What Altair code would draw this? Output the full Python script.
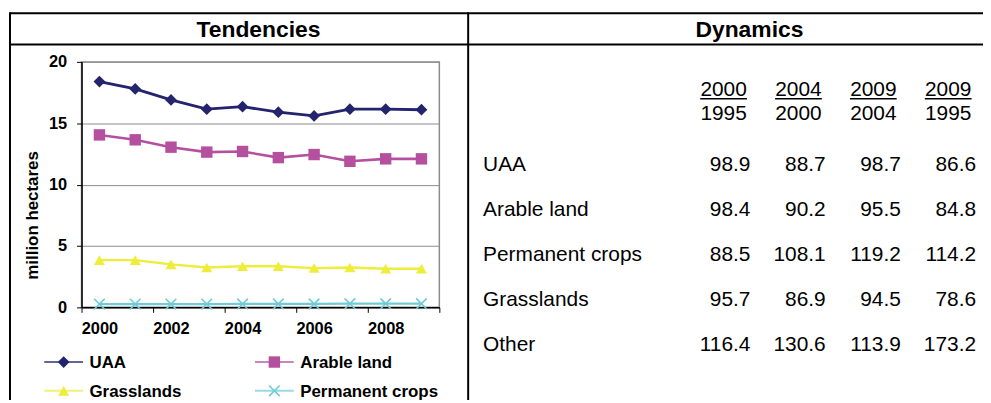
import altair as alt
import pandas as pd

# ---------------- data ----------------
years = [2000, 2001, 2002, 2003, 2004, 2005, 2006, 2007, 2008, 2009]
uaa = [18.4, 17.8, 16.9, 16.15, 16.35, 15.9, 15.6, 16.15, 16.15, 16.1]
arable = [14.05, 13.65, 13.05, 12.65, 12.7, 12.2, 12.45, 11.9, 12.1, 12.1]
grasslands = [3.85, 3.85, 3.5, 3.25, 3.35, 3.35, 3.2, 3.25, 3.15, 3.15]
perm_crops = [0.27, 0.27, 0.27, 0.27, 0.28, 0.28, 0.28, 0.3, 0.3, 0.3]

series_names = ["UAA", "Arable land", "Grasslands", "Permanent crops"]
series_colors = ["#23236E", "#B5509F", "#EDED3A", "#6FCBD6"]
series_shapes = ["diamond", "square", "triangle-up", "M-1,-1L1,1M-1,1L1,-1"]

panel_titles = ["Tendencies", "Dynamics"]

row_labels = ["UAA", "Arable land", "Permanent crops", "Grasslands", "Other"]
col_ids = ["c1", "c2", "c3", "c4"]
col_num = ["2000", "2004", "2009", "2009"]
col_den = ["1995", "2000", "2004", "1995"]
v_2000_1995 = [98.9, 98.4, 88.5, 95.7, 116.4]
v_2004_2000 = [88.7, 90.2, 108.1, 86.9, 130.6]
v_2009_2004 = [98.7, 95.5, 119.2, 94.5, 113.9]
v_2009_1995 = [86.6, 84.8, 114.2, 78.6, 173.2]

# ---------------- tables ----------------
line_df = pd.DataFrame(
    [{"year": y, "series": s, "value": v}
     for s, vals in zip(series_names, [uaa, arable, grasslands, perm_crops])
     for y, v in zip(years, vals)]
)
legend_df = pd.DataFrame(
    [{"series": s, "lcol": i % 2, "lrow": i // 2} for i, s in enumerate(series_names)]
)
table_df = pd.DataFrame(
    [{"row": r, "col": c, "value": v}
     for c, vals in zip(col_ids, [v_2000_1995, v_2004_2000, v_2009_2004, v_2009_1995])
     for r, v in zip(row_labels, vals)]
)
rows_df = pd.DataFrame({"row": row_labels})
head_df = pd.DataFrame({"col": col_ids, "num": col_num, "den": col_den})
title_df = pd.DataFrame({"panel": panel_titles})
one = pd.DataFrame({"a": [0]})

FONT = "Liberation Sans, Arial, Helvetica, sans-serif"
BLACK = "#000000"
GRID = "#8c8c8c"
TABLE_FS = 21

color_scale = alt.Scale(domain=series_names, range=series_colors)
shape_scale = alt.Scale(domain=series_names, range=series_shapes)
width_scale = alt.Scale(domain=series_names, range=[2.8, 2.2, 2.2, 2.2])
size_scale = alt.Scale(domain=series_names, range=[140, 115, 150, 100])

# ---------------- line chart ----------------
x_tick_values = [1999.5 + i for i in range(11)]
x_enc = alt.X(
    "year:Q",
    scale=alt.Scale(domain=[1999.5, 2009.5], nice=False, zero=False),
    axis=alt.Axis(
        values=x_tick_values,
        labelExpr="((datum.value + 0.5) % 2 == 0 && datum.value < 2009) ? format(datum.value + 0.5, 'd') : ''",
        labelOffset=18, labelFlush=False, labelOverlap=False, labelBound=False,
        grid=False, tickSize=5, tickColor=BLACK, domainColor=BLACK, domainWidth=1.5,
        labelFont=FONT, labelFontSize=16.5, labelFontWeight="bold", labelColor=BLACK,
        labelPadding=8, title=None,
    ),
)
y_enc = alt.Y(
    "value:Q",
    scale=alt.Scale(domain=[0, 20], nice=False),
    axis=alt.Axis(
        values=[0, 5, 10, 15, 20], grid=True, gridColor=GRID, gridWidth=1,
        tickSize=5, tickColor=BLACK, domainColor=BLACK, domainWidth=1.5,
        labelFont=FONT, labelFontSize=16.5, labelFontWeight="bold", labelColor=BLACK,
        labelPadding=10, title="million hectares", titleFont=FONT, titleFontSize=17,
        titleFontWeight="bold", titleColor=BLACK, titleX=-40, titleY=154,
    ),
)

lines = alt.Chart(line_df).mark_line().encode(
    x=x_enc, y=y_enc,
    color=alt.Color("series:N", scale=color_scale, legend=None),
    strokeWidth=alt.StrokeWidth("series:N", scale=width_scale, legend=None),
)
pts_filled = alt.Chart(line_df).transform_filter(
    alt.datum.series != "Permanent crops"
).mark_point(filled=True, opacity=1).encode(
    x=alt.X("year:Q"), y=alt.Y("value:Q"),
    color=alt.Color("series:N", scale=color_scale, legend=None),
    shape=alt.Shape("series:N", scale=shape_scale, legend=None),
    size=alt.Size("series:N", scale=size_scale, legend=None),
)
pts_x = alt.Chart(line_df).transform_filter(
    alt.datum.series == "Permanent crops"
).mark_point(filled=False, opacity=1, strokeWidth=1.6).encode(
    x=alt.X("year:Q"), y=alt.Y("value:Q"),
    color=alt.Color("series:N", scale=color_scale, legend=None),
    shape=alt.Shape("series:N", scale=shape_scale, legend=None),
    size=alt.Size("series:N", scale=size_scale, legend=None),
)
line_chart = alt.layer(lines, pts_filled, pts_x)

# ---------------- manual legend ----------------
lx = alt.X("lcol:O", scale=alt.Scale(type="point", domain=[0, 1], range=[-18, 194], padding=0), axis=None)
ly = alt.Y("lrow:O", scale=alt.Scale(type="point", domain=[0, 1], range=[302, 331], padding=0), axis=None)
leg_lines = alt.Chart(legend_df).mark_tick(orient="horizontal", size=39, thickness=2).encode(
    x=lx, y=ly, color=alt.Color("series:N", scale=color_scale, legend=None))
leg_filled = alt.Chart(legend_df).transform_filter(
    alt.datum.series != "Permanent crops"
).mark_point(filled=True, opacity=1).encode(
    x=lx, y=ly, color=alt.Color("series:N", scale=color_scale, legend=None),
    shape=alt.Shape("series:N", scale=shape_scale, legend=None),
    size=alt.Size("series:N", scale=size_scale, legend=None))
leg_x = alt.Chart(legend_df).transform_filter(
    alt.datum.series == "Permanent crops"
).mark_point(filled=False, opacity=1, strokeWidth=1.6).encode(
    x=lx, y=ly, color=alt.Color("series:N", scale=color_scale, legend=None),
    shape=alt.Shape("series:N", scale=shape_scale, legend=None),
    size=alt.Size("series:N", scale=size_scale, legend=None))
leg_text = alt.Chart(legend_df).mark_text(
    align="left", baseline="middle", dx=26, dy=1, font=FONT, fontSize=17,
    fontWeight="bold", color=BLACK,
).encode(x=lx, y=ly, text="series:N")
legend_layer = alt.layer(leg_lines, leg_filled, leg_x, leg_text)

# ---------------- panel titles ----------------
titles = alt.Chart(title_df).mark_text(
    align="center", baseline="middle", font=FONT, fontSize=23, fontWeight="bold", color=BLACK
).encode(
    x=alt.X("panel:N", scale=alt.Scale(type="point", domain=panel_titles, range=[178, 672], padding=0), axis=None),
    y=alt.value(-32),
    text="panel:N",
)

# ---------------- frame ----------------
def hrule(y):
    return alt.Chart(one).mark_rule(color=BLACK, strokeWidth=2).encode(
        x=alt.value(-72), x2=alt.value(912), y=alt.value(y))

def vrule(x):
    return alt.Chart(one).mark_rule(color=BLACK, strokeWidth=2).encode(
        x=alt.value(x), y=alt.value(-50), y2=alt.value(345))

frame = alt.layer(hrule(-49), hrule(-17.5), vrule(-72), vrule(389))

# ---------------- dynamics table ----------------
ty = alt.Y("row:N", scale=alt.Scale(type="point", domain=row_labels, range=[104, 285], padding=0), axis=None)
row_text = alt.Chart(rows_df).mark_text(
    align="left", baseline="middle", font=FONT, fontSize=TABLE_FS, color=BLACK
).encode(x=alt.value(404), y=ty, text="row:N")
val_text = alt.Chart(table_df).mark_text(
    align="right", baseline="middle", font=FONT, fontSize=TABLE_FS, color=BLACK
).encode(
    x=alt.X("col:N", scale=alt.Scale(type="point", domain=col_ids, range=[673, 900], padding=0), axis=None),
    y=ty,
    text=alt.Text("value:Q", format=".1f"),
)
table_layer = alt.layer(row_text, val_text)

hx = alt.X("col:N", scale=alt.Scale(type="point", domain=col_ids, range=[646, 872], padding=0), axis=None)
num_text = alt.Chart(head_df).mark_text(
    align="center", baseline="middle", font=FONT, fontSize=TABLE_FS, color=BLACK
).encode(x=hx, y=alt.value(28), text="num:N")
den_text = alt.Chart(head_df).mark_text(
    align="center", baseline="middle", font=FONT, fontSize=TABLE_FS, color=BLACK
).encode(x=hx, y=alt.value(52.5), text="den:N")
underline = alt.Chart(head_df).mark_tick(
    orient="horizontal", size=47, thickness=1.5, color=BLACK, opacity=1
).encode(x=hx, y=alt.value(37))
head_layer = alt.layer(num_text, den_text, underline)

chart = alt.layer(
    line_chart, legend_layer, titles, frame, table_layer, head_layer
).resolve_scale(
    x="independent", y="independent"
).properties(
    width=360, height=247,
    padding={"left": 74, "top": 53, "right": 547, "bottom": 92},
    autosize=alt.AutoSizeParams(type="none"),
    background="white",
).configure_view(
    stroke=GRID, strokeWidth=1.5
)

chart.save("out.html", embed_options={"renderer": "svg", "actions": False})
